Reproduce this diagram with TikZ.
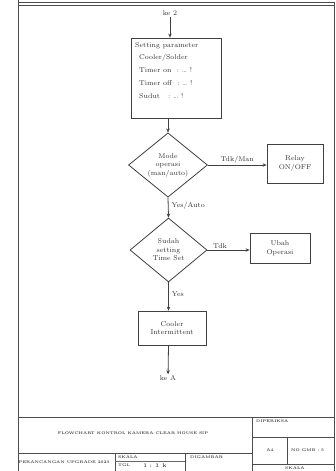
\documentclass[tikz,border=0pt]{standalone}
\usetikzlibrary{shapes.geometric,arrows.meta}
\begin{document}
\begin{tikzpicture}[x=1pt,y=-1pt,
  ln/.style={draw=black!75,line width=0.8pt},
  arr/.style={ln,-{Stealth[length=4pt,width=3.5pt]}},
  txt/.style={font=\fontsize{7}{8}\selectfont,text=black!80,align=center,inner sep=1pt},
  proc/.style={ln,rectangle,inner sep=0pt,font=\fontsize{7}{8.5}\selectfont,text=black!80,align=center},
  dec/.style={ln,diamond,inner sep=0pt,font=\fontsize{7}{8.5}\selectfont,text=black!80,align=center},
  tb/.style={font=\fontsize{3.8}{4.4}\selectfont\bfseries,text=black!75,inner sep=0pt},
  frame/.style={draw=black!70,line width=0.9pt}]
\useasboundingbox (0,0) rectangle (336,471);
\fill[white] (0,0) rectangle (336,471);
% frame
\draw[frame] (18,0) -- (18,471);
\draw[frame] (18,2) -- (334,2);
\draw[frame] (18,5) -- (334,5);
\draw[frame] (334,2) -- (334,471);
% title block
\draw[frame] (18,417) -- (334,417);
\draw[frame] (18,453) -- (252,453);
\draw[frame] (252,417) -- (252,471);
\draw[frame] (252,437) -- (334,437);
\draw[frame] (287,437) -- (287,464);
\draw[frame] (252,464) -- (334,464);
\draw[frame] (115,453) -- (115,471);
\draw[frame] (185,453) -- (185,471);
\draw[line width=0.4pt,black!60] (115,461) -- (185,461);
\node[tb] (title) at (133,433) {FLOWCHART KONTROL KAMERA CLEAR HOUSE SIP};
\node[tb] (proj) at (64,462) {PERANCANGAN UPGRADE 2023};
\node[tb,anchor=west] (sk) at (118,457) {SKALA};
\node[tb,anchor=west] (tg) at (118,465) {TGL};
\node[tb,font=\fontsize{5.5}{6}\selectfont\bfseries] (skv) at (155,466) {1 : 1 \,k};
\node[tb,anchor=west] (dg) at (190,457) {DIGAMBAR};
\node[tb,anchor=west] (dp) at (256,421) {DIPERIKSA};
\node[tb] (a4) at (270,450) {A4};
\node[tb,anchor=west] (no) at (291,450) {NO GMB : 5};
\node[tb,anchor=west] (sk2) at (285,468) {SKALA};
% flowchart
\node[txt] (start) at (170,13) {ke 2};
\node[proc,minimum width=90pt,minimum height=80pt] (par) at (176,78) {};
\node[txt,anchor=north west,align=left,font=\fontsize{7}{13.8}\selectfont] (partxt) at (134,41)
  {Setting parameter\\[-1pt]
   \hspace{4pt}Cooler/Solder\\[-1pt]
   \hspace{4pt}Timer on \ :\ \dots\ !\\[-1pt]
   \hspace{4pt}Timer off \ :\ \dots\ !\\[-1pt]
   \hspace{4pt}Sudut \ \ :\ \dots\ !};
\node[dec,minimum width=79pt,minimum height=60pt] (d1) at (168,165) {Mode\\operasi\\(man/auto)};
\node[proc,minimum width=56pt,minimum height=39pt] (relay) at (295,163.5) {Relay\\ON/OFF};
\node[dec,minimum width=77pt,minimum height=64pt] (d2) at (168.5,250) {Sudah\\setting\\Time Set};
\node[proc,minimum width=60pt,minimum height=30pt] (ubah) at (280,248) {Ubah\\Operasi};
\node[proc,minimum width=68pt,minimum height=34pt] (cool) at (172,328) {Cooler\\Intermittent};
\node[txt] (end) at (168,378) {ke A};
% connectors
\draw[arr] (start) -- (start |- par.north);
\draw[arr] (d1.north |- par.south) -- (d1.north);
\draw[arr] (d1.east) -- (d1.east -| relay.west) node[txt,midway,above] {Tdk/Man};
\draw[arr] (d1.south) -- (d2.north) node[txt,pos=0.4,right,xshift=2pt] {Yes/Auto};
\draw[arr] (d2.east) -- (d2.east -| ubah.west) node[txt,pos=0.3,above] {Tdk};
\draw[arr] (d2.south) -- (d2.south |- cool.north) node[txt,pos=0.4,right,xshift=2pt] {Yes};
\draw[arr] (cool.south -| d2.south) -- (end);
\end{tikzpicture}
\end{document}
